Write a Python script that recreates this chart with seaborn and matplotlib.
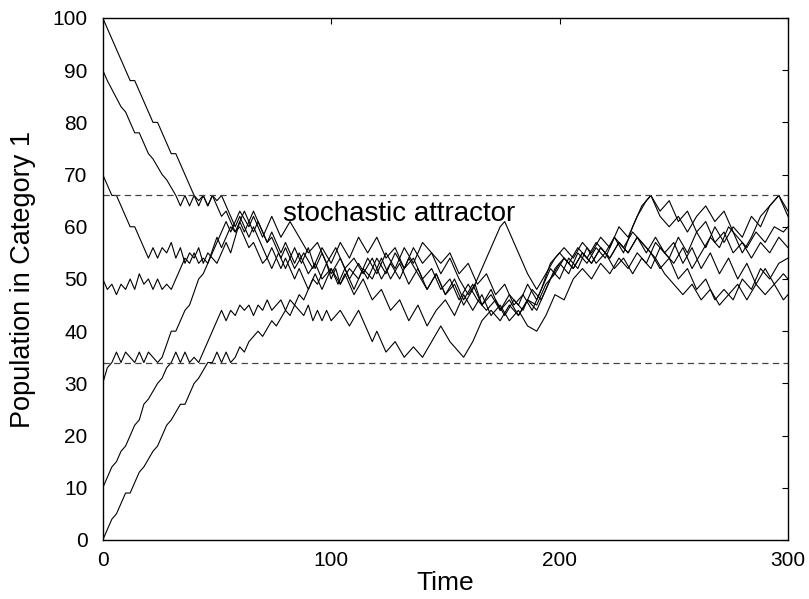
import pandas as pd
import seaborn as sns
import matplotlib.pyplot as plt

# Trajectories: turning points (time, population)
run_100_t = [0, 12, 14, 22, 24, 30, 32, 38, 40, 42, 44, 46, 48, 50, 52, 58, 60, 64, 66, 72, 74, 78, 80, 84, 86, 90, 93, 96, 100, 103, 106, 110, 114, 118, 122, 126, 130, 134, 138, 142, 146, 150, 154, 158, 162, 166, 170, 174, 178, 182, 186, 190, 196, 200, 204, 208, 212, 216, 220, 224, 228, 232, 236, 240, 244, 248, 252, 256, 260, 264, 268, 272, 276, 280, 284, 288, 292, 296, 300]
run_100_v = [100, 88, 88, 80, 80, 74, 74, 68, 66, 64, 66, 64, 66, 65, 66, 60, 62, 58, 60, 54, 56, 52, 54, 50, 52, 48, 51, 48, 52, 49, 52, 48, 52, 50, 54, 50, 53, 49, 52, 48, 51, 47, 50, 46, 49, 45, 48, 44, 47, 45, 49, 46, 52, 50, 54, 52, 56, 53, 55, 52, 54, 51, 54, 52, 56, 54, 58, 55, 59, 56, 60, 57, 60, 58, 62, 60, 64, 66, 63]

run_90_t = [0, 2, 8, 10, 14, 16, 20, 22, 26, 28, 32, 34, 36, 38, 40, 42, 44, 46, 48, 52, 54, 58, 60, 64, 66, 70, 72, 74, 77, 80, 84, 87, 90, 93, 96, 100, 104, 108, 112, 116, 120, 124, 128, 132, 136, 140, 144, 148, 152, 156, 160, 163, 166, 170, 174, 178, 182, 186, 190, 194, 198, 202, 206, 210, 214, 218, 222, 226, 230, 234, 238, 242, 246, 250, 254, 258, 262, 266, 270, 274, 278, 282, 286, 290, 294, 298, 300]
run_90_v = [90, 88, 83, 82, 78, 78, 74, 73, 70, 69, 66, 64, 66, 64, 66, 65, 66, 64, 66, 62, 63, 59, 60, 56, 57, 53, 54, 52, 55, 52, 56, 53, 56, 52, 55, 51, 54, 50, 53, 50, 54, 51, 55, 52, 56, 53, 55, 51, 54, 50, 47, 49, 45, 47, 44, 46, 43, 46, 44, 48, 52, 54, 52, 55, 53, 56, 54, 57, 55, 58, 55, 58, 55, 57, 53, 56, 52, 55, 51, 54, 50, 53, 49, 52, 49, 51, 50]

run_70_t = [0, 4, 6, 12, 14, 18, 20, 22, 24, 26, 28, 30, 32, 34, 36, 38, 40, 42, 44, 46, 50, 54, 56, 60, 62, 66, 68, 72, 74, 78, 80, 84, 86, 90, 93, 96, 100, 104, 108, 112, 116, 120, 124, 128, 132, 136, 140, 144, 148, 152, 156, 160, 164, 168, 172, 176, 180, 184, 188, 192, 196, 200, 204, 208, 212, 216, 220, 224, 228, 232, 236, 240, 244, 248, 252, 256, 260, 264, 268, 272, 276, 280, 284, 288, 292, 296, 300]
run_70_v = [70, 66, 66, 60, 60, 56, 54, 56, 54, 56, 55, 57, 54, 56, 53, 55, 54, 56, 53, 55, 53, 57, 55, 61, 59, 63, 61, 57, 59, 55, 57, 53, 55, 51, 53, 50, 52, 49, 52, 50, 54, 51, 55, 52, 56, 53, 57, 55, 53, 55, 51, 53, 49, 51, 47, 49, 45, 47, 44, 48, 53, 55, 53, 56, 54, 57, 55, 58, 55, 60, 64, 66, 63, 65, 61, 63, 59, 61, 57, 59, 55, 57, 54, 57, 55, 58, 56]

run_50_t = [0, 2, 4, 6, 8, 10, 12, 14, 16, 18, 20, 22, 24, 26, 28, 30, 32, 34, 36, 38, 40, 42, 44, 46, 50, 52, 56, 58, 62, 66, 68, 72, 74, 78, 80, 84, 88, 92, 96, 100, 104, 108, 112, 116, 120, 124, 128, 132, 136, 140, 144, 148, 152, 156, 160, 164, 168, 172, 176, 180, 184, 188, 192, 196, 200, 204, 208, 212, 216, 220, 224, 228, 232, 236, 240, 244, 248, 252, 256, 260, 264, 268, 272, 276, 280, 284, 288, 292, 296, 300]
run_50_v = [50, 48, 49, 47, 49, 48, 50, 48, 51, 49, 50, 48, 50, 48, 49, 48, 50, 52, 54, 53, 55, 53, 54, 53, 58, 56, 60, 59, 63, 59, 61, 57, 58, 54, 56, 52, 55, 52, 56, 53, 57, 54, 58, 55, 58, 54, 56, 52, 54, 50, 52, 48, 50, 46, 49, 46, 44, 46, 43, 46, 44, 48, 46, 50, 53, 51, 55, 53, 56, 54, 58, 56, 59, 57, 55, 52, 54, 50, 52, 48, 50, 46, 48, 46, 50, 48, 52, 50, 53, 54]

run_30_t = [0, 2, 4, 6, 8, 10, 12, 14, 16, 18, 20, 22, 24, 26, 30, 32, 36, 38, 42, 44, 48, 50, 54, 56, 60, 64, 66, 70, 74, 78, 82, 86, 90, 94, 98, 102, 106, 110, 114, 118, 122, 126, 130, 134, 138, 142, 146, 150, 154, 158, 162, 166, 170, 174, 176, 178, 182, 186, 190, 194, 198, 202, 206, 210, 214, 218, 222, 226, 230, 234, 238, 240, 244, 248, 252, 256, 260, 264, 268, 272, 276, 280, 284, 288, 292, 296, 300]
run_30_v = [30, 33, 34, 36, 34, 36, 35, 34, 36, 34, 36, 35, 34, 35, 40, 40, 44, 45, 50, 51, 55, 57, 61, 59, 63, 60, 62, 58, 62, 58, 61, 58, 55, 57, 53, 56, 52, 54, 51, 54, 50, 53, 50, 54, 51, 48, 51, 47, 49, 45, 48, 52, 56, 60, 61, 59, 55, 51, 48, 51, 54, 56, 54, 57, 55, 58, 56, 60, 58, 62, 65, 66, 62, 60, 62, 59, 62, 64, 61, 63, 59, 55, 58, 62, 64, 66, 62]

run_10_t = [0, 4, 6, 8, 10, 14, 16, 18, 20, 24, 26, 28, 30, 32, 34, 36, 38, 40, 42, 48, 50, 52, 54, 56, 58, 60, 62, 64, 66, 68, 70, 72, 74, 76, 78, 80, 82, 84, 86, 88, 92, 94, 98, 100, 102, 104, 106, 110, 114, 118, 122, 126, 130, 134, 138, 142, 146, 150, 154, 158, 162, 166, 170, 174, 178, 182, 186, 190, 194, 198, 202, 206, 210, 214, 218, 222, 226, 230, 234, 238, 242, 246, 250, 254, 258, 262, 266, 270, 274, 278, 282, 286, 290, 294, 298, 300]
run_10_v = [10, 14, 15, 17, 18, 22, 23, 26, 27, 30, 31, 33, 34, 36, 34, 36, 34, 35, 34, 40, 42, 44, 42, 44, 43, 45, 44, 45, 43, 45, 44, 46, 44, 45, 46, 44, 46, 45, 47, 46, 50, 49, 53, 50, 52, 49, 51, 47, 50, 46, 48, 44, 46, 42, 45, 41, 44, 46, 43, 47, 44, 47, 43, 45, 42, 44, 41, 40, 43, 47, 46, 50, 52, 50, 53, 51, 54, 52, 55, 53, 57, 55, 53, 56, 52, 55, 58, 56, 60, 58, 56, 59, 57, 60, 59, 60]

run_0_t = [0, 4, 6, 10, 12, 16, 18, 22, 24, 28, 30, 34, 36, 40, 42, 46, 48, 50, 52, 54, 56, 58, 60, 62, 64, 68, 70, 74, 76, 80, 82, 84, 86, 88, 90, 92, 94, 96, 98, 100, 104, 108, 112, 116, 118, 120, 124, 128, 132, 136, 140, 144, 148, 152, 156, 158, 162, 166, 170, 174, 178, 182, 186, 190, 194, 198, 202, 206, 210, 214, 218, 222, 226, 230, 234, 238, 242, 246, 250, 254, 258, 262, 266, 270, 274, 278, 282, 286, 290, 294, 298, 300]
run_0_v = [0, 4, 5, 9, 9, 13, 14, 17, 18, 22, 23, 26, 26, 30, 31, 34, 34, 36, 34, 36, 34, 35, 37, 36, 38, 40, 39, 42, 41, 44, 43, 45, 44, 43, 45, 42, 44, 42, 44, 42, 44, 41, 44, 40, 38, 40, 36, 38, 35, 37, 35, 38, 41, 38, 36, 35, 38, 42, 44, 42, 45, 43, 46, 45, 49, 51, 54, 52, 55, 53, 56, 54, 57, 55, 58, 56, 54, 51, 49, 47, 49, 46, 48, 45, 47, 49, 46, 49, 47, 49, 46, 47]

runs = {
    "100": (run_100_t, run_100_v),
    "90": (run_90_t, run_90_v),
    "70": (run_70_t, run_70_v),
    "50": (run_50_t, run_50_v),
    "30": (run_30_t, run_30_v),
    "10": (run_10_t, run_10_v),
    "0": (run_0_t, run_0_v),
}

attractor_bounds = [34, 66]
y_ticks = list(range(0, 101, 10))
x_ticks = [0, 100, 200, 300]

rows = []
for name, (ts, vs) in runs.items():
    for t, v in zip(ts, vs):
        rows.append({"run": name, "Time": t, "Population": v})
df = pd.DataFrame(rows)

sns.set_style("white")
plt.rcParams['font.family'] = ['Liberation Sans', 'DejaVu Sans']
plt.rcParams['text.color'] = 'black'
plt.rcParams['axes.labelcolor'] = 'black'
plt.rcParams['xtick.color'] = 'black'
plt.rcParams['ytick.color'] = 'black'

fig = plt.figure(figsize=(8.09, 5.99), dpi=100)
ax = fig.add_axes([0.127, 0.0985, 0.847, 0.8715])

sns.lineplot(data=df, x="Time", y="Population", units="run", estimator=None,
             sort=False, color="black", linewidth=0.8, ax=ax, legend=False)

for b in attractor_bounds:
    ax.axhline(b, color="#444444", linewidth=0.9, dashes=(5, 3.5))

ax.text(79, 61.2, "stochastic attractor", fontsize=20, ha="left", va="baseline")

ax.set_xlim(0, 300)
ax.set_ylim(0, 100)
ax.set_xticks(x_ticks)
ax.set_yticks(y_ticks)
ax.tick_params(direction="in", length=4, width=0.8, top=True, right=True,
               labelsize=15)
ax.tick_params(axis="x", pad=8)
ax.tick_params(axis="y", pad=11)
for s in ax.spines.values():
    s.set_color("black")
    s.set_linewidth(1.0)
ax.set_xlabel("Time", fontsize=19, labelpad=1)
ax.set_ylabel("Population in Category 1", fontsize=19.5, labelpad=12)

fig.savefig("out.png", dpi=100)
